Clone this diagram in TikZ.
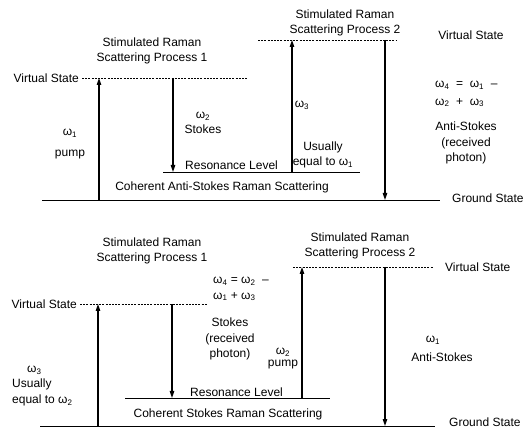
\documentclass[tikz,border=0pt]{standalone}
\usepackage{fontspec}
\setmainfont{Liberation Sans}
\usetikzlibrary{arrows.meta}
\newcommand{\om}[1]{ω\textsubscript{#1}}
\tikzset{
	txt/.style={font=\fontsize{12}{15.5}\selectfont, align=center, inner sep=0pt},
	level/.style={line width=0.9pt},
	virtual/.style={line width=0.8pt, dash pattern=on 2pt off 1.2pt},
	photon/.style={line width=1.1pt, -{Triangle[length=7pt,width=4.5pt]}},
}
\begin{document}
\begin{tikzpicture}[x=1pt, y=-1pt]
	\useasboundingbox (0,0) rectangle (525,430);
	% CARS: Niveaus
	\coordinate (gndA) at (42,200);
	\coordinate (gndB) at (440,200);
	\coordinate (resA) at (163,172);
	\coordinate (resB) at (360,172);
	\coordinate (virtA) at (82,78);
	\coordinate (virtB) at (247,78);
	\coordinate (virtC) at (258,40);
	\coordinate (virtD) at (397,40);
	\draw[level] (gndA) -- (gndB);
	\draw[level] (resA) -- (resB);
	\draw[virtual] (virtA) -- (virtB);
	\draw[virtual] (virtC) -- (virtD);
	% CARS: Uebergaenge
	\coordinate (pumpA) at (99,200);
	\coordinate (pumpB) at (99,78);
	\coordinate (stokesA) at (173,78);
	\coordinate (stokesB) at (173,172);
	\coordinate (probeA) at (292,172);
	\coordinate (probeB) at (292,40);
	\coordinate (antiA) at (385,40);
	\coordinate (antiB) at (385,200);
	\draw[photon] (pumpA) -- (pumpB);
	\draw[photon] (stokesA) -- (stokesB);
	\draw[photon] (probeA) -- (probeB);
	\draw[photon] (antiA) -- (antiB);
	% CARS: Beschriftungen
	\node[txt] (srsOne) at (152,51) {Stimulated Raman\\Scattering Process 1};
	\node[txt] (srsTwo) at (345,23) {Stimulated Raman\\Scattering Process 2};
	\node[txt, anchor=east] (vsOne) at (79,78) {Virtual State};
	\node[txt] (vsTwo) at (471,35) {Virtual State};
	\node[txt] (wOne) at (70,133) {\om{1}};
	\node[txt] (pumpOne) at (70,155) {pump};
	\node[txt] (wTwo) at (203,123) {\om{2}\\Stokes};
	\node[txt] (wThree) at (302,105) {\om{3}};
	\node[txt] (usOne) at (323,155) {Usually\\equal to \om{1}};
	\node[txt, anchor=base west] (resOne) at (185,170) {Resonance Level};
	\node[txt] (cars) at (222,187) {Coherent Anti-Stokes Raman Scattering};
	\node[txt, anchor=west, align=left] (wFour) at (435,94)
		{\om{4} \ = \ \om{1} \ –\\[2pt]\om{2} \ + \ \om{3}};
	\node[txt] (asOne) at (466,143) {Anti-Stokes\\(received\\photon)};
	\node[txt, anchor=west] (gsOne) at (452,198) {Ground State};

	% CSRS: Niveaus
	\coordinate (gndC) at (40,426);
	\coordinate (gndD) at (435,426);
	\coordinate (resC) at (125,398);
	\coordinate (resD) at (330,398);
	\coordinate (virtE) at (80,304);
	\coordinate (virtF) at (207,304);
	\coordinate (virtG) at (293,267);
	\coordinate (virtH) at (433,267);
	\draw[level] (gndC) -- (gndD);
	\draw[level] (resC) -- (resD);
	\draw[virtual] (virtE) -- (virtF);
	\draw[virtual] (virtG) -- (virtH);
	% CSRS: Uebergaenge
	\coordinate (probeC) at (98,426);
	\coordinate (probeD) at (98,304);
	\coordinate (stokesC) at (172,304);
	\coordinate (stokesD) at (172,398);
	\coordinate (pumpC) at (302,398);
	\coordinate (pumpD) at (302,267);
	\coordinate (antiC) at (385,267);
	\coordinate (antiD) at (385,426);
	\draw[photon] (probeC) -- (probeD);
	\draw[photon] (stokesC) -- (stokesD);
	\draw[photon] (pumpC) -- (pumpD);
	\draw[photon] (antiC) -- (antiD);
	% CSRS: Beschriftungen
	\node[txt] (srsThree) at (152,251) {Stimulated Raman\\Scattering Process 1};
	\node[txt] (srsFour) at (360,246) {Stimulated Raman\\Scattering Process 2};
	\node[txt, anchor=east] (vsThree) at (77,304) {Virtual State};
	\node[txt, anchor=west] (vsFour) at (445,267) {Virtual State};
	\node[txt, anchor=west, align=left] (wFive) at (213,289)
		{\om{4} = \om{2} \ –\\\om{1} + \om{3}};
	\node[txt] (stOne) at (230,339) {Stokes\\(received\\photon)};
	\node[txt, anchor=west, align=left] (wSix) at (12,386)
		{\hspace*{15pt}\om{3}\\Usually\\equal to \om{2}};
	\node[txt] (wSeven) at (283,352) {\om{2}};
	\node[txt] (pumpTwo) at (283,365) {pump};
	\node[txt] (wEight) at (433,340) {\om{1}};
	\node[txt] (asTwo) at (442,357) {Anti-Stokes};
	\node[txt, anchor=base west] (resTwo) at (190,396) {Resonance Level};
	\node[txt] (csrs) at (228,414) {Coherent Stokes Raman Scattering};
	\node[txt, anchor=west] (gsTwo) at (449,422) {Ground State};
\end{tikzpicture}
\end{document}
